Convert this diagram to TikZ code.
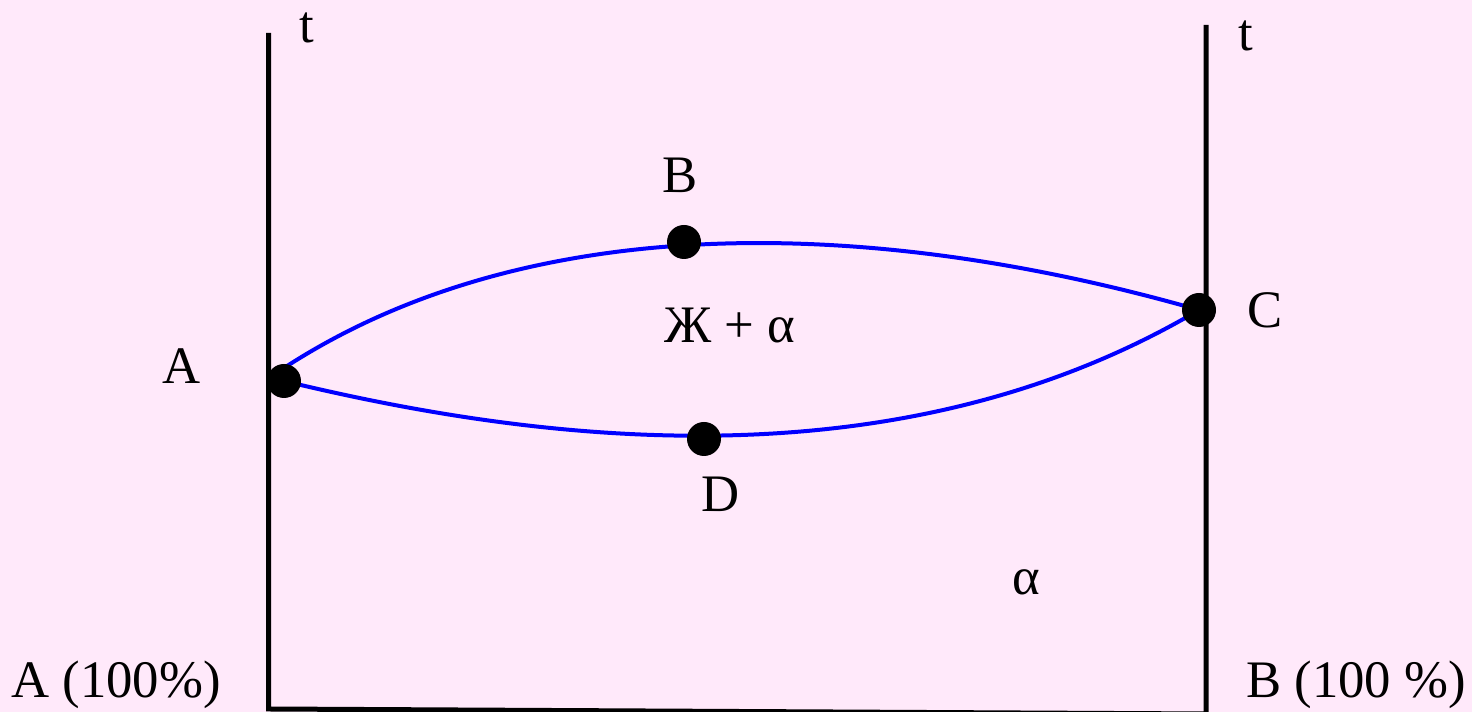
\documentclass[tikz,border=0pt]{standalone}
\usepackage{fontspec}
\setmainfont{Liberation Serif}
\usetikzlibrary{positioning}
\definecolor{diagbg}{RGB}{255,233,250}
\pgfdeclarelayer{bg}
\pgfdeclarelayer{curves}
\pgfsetlayers{bg,curves,main}

\begin{document}
\begin{tikzpicture}[x=0.02cm, y=0.02cm, font=\fontsize{30}{36}\selectfont,
    axis/.style={line width=0.1cm, black, line join=miter},
    phase/.style={line width=0.08cm, blue},
    pnt/.style={circle, fill=black, minimum size=0.68cm, inner sep=0pt},
    lbl/.style={inner sep=0pt}]
    % Background (fixes the page size)
    \begin{pgfonlayer}{bg}
        \fill[diagbg] (0,0) rectangle (1472,712);
    \end{pgfonlayer}
    \useasboundingbox (0,0) rectangle (1472,712);

    % Axes
    \coordinate (ltop) at (268.5,679);
    \coordinate (lbot) at (268.5,3);
    \coordinate (rbot) at (1206,-2);
    \coordinate (rtop) at (1206,687);
    \draw[axis] (ltop) -- (lbot) -- (rbot) -- (rtop);

    % Points on the diagram
    \node[pnt] (dotA) at (284,331) {};
    \node[pnt] (dotB) at (684,470) {};
    \node[pnt] (dotC) at (1199,402) {};
    \node[pnt] (dotD) at (704,273) {};

    % Liquidus and solidus (drawn under the points)
    \coordinate (liqstart) at (284,344);
    \begin{pgfonlayer}{curves}
        \draw[phase] (liqstart) .. controls (519,497) and (853,501) .. (dotC.center);
        \draw[phase] (dotA.center) .. controls (536,270) and (896,223) .. (dotC.center);
    \end{pgfonlayer}

    % Point labels
    \node[lbl, above=0.64cm of dotB, xshift=-0.08cm] (labB) {B};
    \node[lbl, below=0.4cm of dotD, xshift=0.34cm] (labD) {D};
    \node[lbl, left=1.32cm of dotA, yshift=0.29cm] (labA) {A};
    \node[lbl, right=0.62cm of dotC] (labC) {C};

    % Axis and region labels
    \node[lbl, anchor=base] (tleft) at (307,669) {t};
    \node[lbl, anchor=base] (tright) at (1246,661) {t};
    \node[lbl, anchor=base] (twophase) at (730,369) {Ж + α};
    \node[lbl, anchor=base] (alpha) at (1026,117) {α};
    \node[lbl, anchor=base] (pureA) at (116,14) {A (100\%)};
    \node[lbl, anchor=base] (pureB) at (1356,14) {B (100 \%)};
\end{tikzpicture}
\end{document}
